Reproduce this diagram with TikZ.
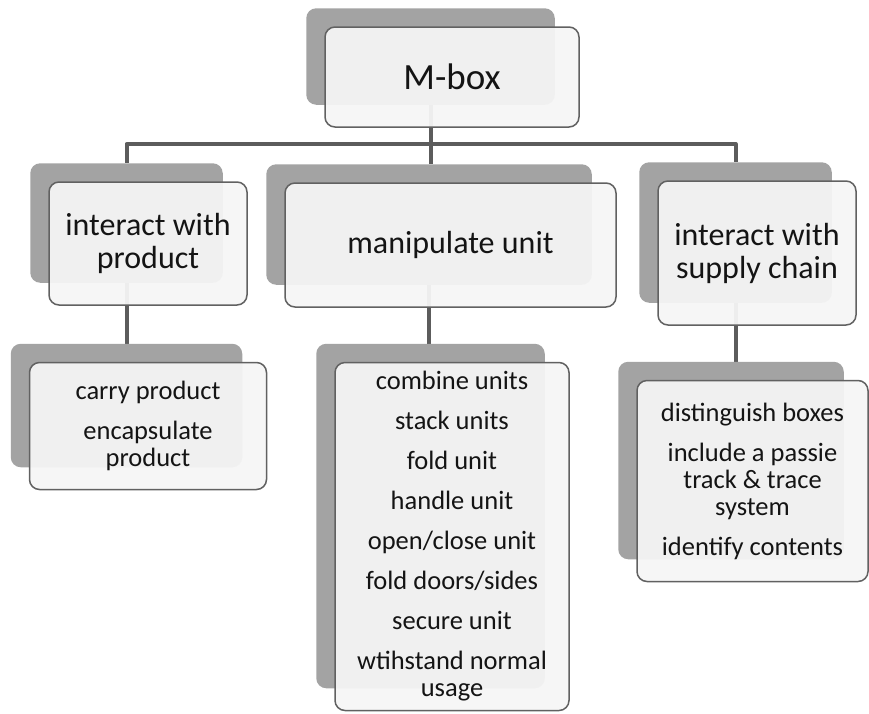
\documentclass[tikz,border=0pt]{standalone}
\usepackage{fontspec}
\setmainfont{Carlito}
\usetikzlibrary{positioning, fit}

\pgfdeclarelayer{wires}
\pgfdeclarelayer{shades}
\pgfsetlayers{wires,shades,main}

\newcommand{\headfont}{\fontsize{37}{40}\selectfont}
\newcommand{\midfont}{\fontsize{32}{33}\selectfont}
\newcommand{\listfont}{\fontsize{26.5}{27}\selectfont}

\begin{document}
\begin{tikzpicture}[
    x=1pt, y=1pt,
    frontbox/.style={draw=black!62, line width=1.5pt, rounded corners=10pt, fill=black!4,
                     fill opacity=0.95, text opacity=1, text=black!92, align=center, inner sep=0pt},
    headbox/.style={frontbox, font=\headfont, minimum width=254pt, minimum height=100pt},
    midbox/.style={frontbox, font=\midfont, minimum width=198pt, minimum height=123pt},
    listbox/.style={frontbox, font=\listfont, minimum width=237pt, minimum height=127pt},
    backbox/.style={fill=black!36, rounded corners=10pt, inner sep=0pt},
    conn/.style={draw=black!64, line width=4pt, line join=round},
]
\useasboundingbox (0,0) rectangle (869,-713);

% --- Top ---
\node[headbox] (mbox) at (452,-77) {M-box};

% --- Second level ---
\node[midbox] (prod) at (148,-243.5) {interact with\\product};
\node[midbox, minimum width=331pt, minimum height=124pt] (unit) at (450.5,-245)
  {manipulate unit};
\node[midbox, minimum height=144pt] (chain) at (757,-253)
  {interact with\\supply chain};

% --- Lists ---
\node[listbox, below=56pt of prod] (prodlist)
  {carry product\\[13pt]encapsulate\\product};
\node[listbox, below=54pt of unit, xshift=1.5pt, minimum width=234pt, minimum height=348pt] (unitlist)
  {combine units\\[13pt]stack units\\[13pt]fold unit\\[13pt]handle unit\\[13pt]open/close unit\\[13pt]fold doors/sides\\[13pt]secure unit\\[13pt]wtihstand normal\\usage};
\node[listbox, below=54pt of chain, xshift=-4.5pt, minimum width=231pt, minimum height=201pt] (chainlist)
  {distinguish boxes\\[13pt]include a passie\\track \& trace\\system\\[13pt]identify contents};

% --- Shadow boxes behind ---
\begin{pgfonlayer}{shades}
\foreach \n in {mbox,prod,unit,chain,prodlist,unitlist,chainlist}
  \node[backbox, fit={([shift={(-18pt,18pt)}]\n.north west) ([shift={(-25pt,23pt)}]\n.south east)}] (\n-s) {};
\end{pgfonlayer}

% --- Connectors ---
\begin{pgfonlayer}{wires}
\coordinate (bus) at (0,-144);
\draw[conn] (mbox-s.south) -- (mbox-s.south |- unit-s.north);
\draw[conn] (prod-s.north) -- (prod-s.north |- bus) -- (chain-s.north |- bus) -- (chain-s.north);
\draw[conn] (prod-s.south) -- (prod-s.south |- prodlist-s.north);
\draw[conn] (unit-s.south) -- (unit-s.south |- unitlist-s.north);
\draw[conn] (chain-s.south) -- (chain-s.south |- chainlist-s.north);
\end{pgfonlayer}
\end{tikzpicture}
\end{document}
